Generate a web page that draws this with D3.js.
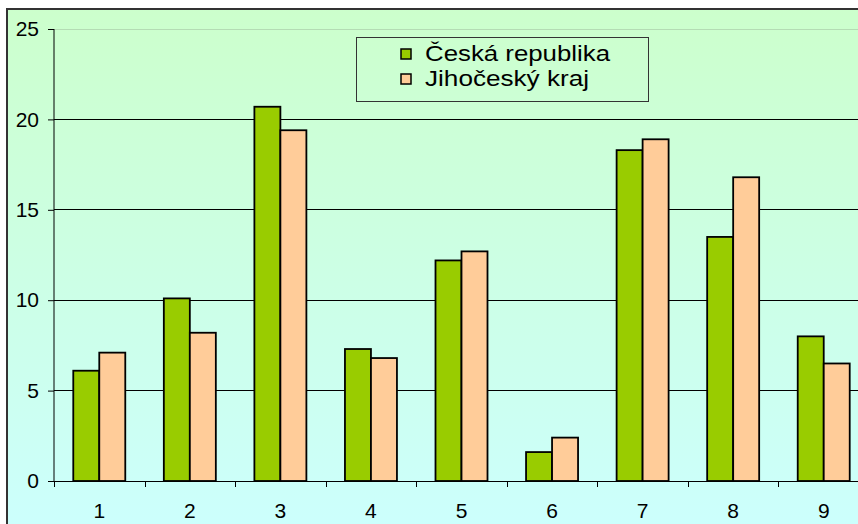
<!DOCTYPE html>
<html>
<head>
<meta charset="utf-8">
<script src="https://cdn.jsdelivr.net/npm/d3@7"></script>
<style>
  html, body { margin: 0; padding: 0; background: #fff; }
  svg { display: block; font-family: "Liberation Sans", Arial, sans-serif; }
</style>
</head>
<body>
<svg id="chart" width="858" height="524"></svg>
<script>
// data
const categories = ["1", "2", "3", "4", "5", "6", "7", "8", "9"]
const seriesNames = ["Česká republika", "Jihočeský kraj"]
const ceskaRepublika = [6.1, 10.1, 20.7, 7.3, 12.2, 1.6, 18.3, 13.5, 8.0]
const jihoceskyKraj = [7.1, 8.2, 19.4, 6.8, 12.7, 2.4, 18.9, 16.8, 6.5]
const yTicks = [0, 5, 10, 15, 20, 25]
const seriesColours = ["#99cc00", "#ffcc99"]

const width = 858, height = 524
const plot = { left: 54, right: 869, top: 29, bottom: 481 }

const svg = d3.select("#chart")
const defs = svg.append("defs")

// background gradient, green at top to cyan at bottom
const grad = defs.append("linearGradient")
    .attr("id", "bg").attr("x1", 0).attr("y1", 0).attr("x2", 0).attr("y2", 1)
grad.append("stop").attr("offset", "0%").attr("stop-color", "#ccffcc")
grad.append("stop").attr("offset", "100%").attr("stop-color", "#ccffff")

svg.append("rect")
    .attr("x", 7).attr("y", 9)
    .attr("width", 880).attr("height", 540)
    .attr("fill", "url(#bg)")
    .attr("stroke", "#333").attr("stroke-width", 2)

//scales
const x = d3.scaleBand().domain(categories).range([plot.left, plot.right]).padding(0)
const groupWidth = 52
const x1 = d3.scaleBand().domain(seriesNames).range([0, groupWidth]).padding(0)
const y = d3.scaleLinear().domain([0, 25]).range([plot.bottom, plot.top])

//gridlines
svg.append("g").selectAll("line")
    .data(yTicks.filter(d => d > 0)).enter().append("line")
    .attr("x1", plot.left).attr("x2", width)
    .attr("y1", d => y(d)).attr("y2", d => y(d))
    .attr("stroke", d => d === 25 ? "#b4dcb4" : "#000")
    .attr("stroke-width", 1)
    .attr("shape-rendering", "crispEdges")

//bars
const data = categories.map((c, i) => ({ cat: c, values: [ceskaRepublika[i], jihoceskyKraj[i]] }))
const groups = svg.append("g").selectAll("g")
    .data(data).enter().append("g")
    .attr("transform", d => `translate(${x(d.cat) + x.bandwidth() / 2 - groupWidth / 2}, 0)`)

groups.selectAll("rect")
    .data(d => d.values.map((v, i) => ({ name: seriesNames[i], value: v, i })))
    .enter().append("rect")
    .attr("x", d => x1(d.name))
    .attr("width", x1.bandwidth())
    .attr("y", d => y(d.value))
    .attr("height", d => y(0) - y(d.value))
    .attr("fill", d => seriesColours[d.i])
    .attr("stroke", "#000")
    .attr("stroke-width", 1.8)

//y axis
const yAxis = svg.append("g")
    .attr("transform", `translate(${plot.left}, 0)`)
    .call(d3.axisLeft(y).tickValues(yTicks).tickSize(6).tickPadding(9))
yAxis.select(".domain").attr("stroke", "#000").attr("d", `M0,${plot.top}V${plot.bottom}`)
yAxis.selectAll("text").attr("font-size", 21).attr("fill", "#000")
    .attr("font-family", "'Liberation Sans', Arial, sans-serif")

//x axis, ticks at category boundaries
svg.append("line")
    .attr("x1", plot.left).attr("x2", width)
    .attr("y1", plot.bottom).attr("y2", plot.bottom)
    .attr("stroke", "#000").attr("shape-rendering", "crispEdges")

svg.append("g").selectAll("line")
    .data(categories).enter().append("line")
    .attr("x1", d => Math.round(x(d)) + 0.5).attr("x2", d => Math.round(x(d)) + 0.5)
    .attr("y1", plot.bottom).attr("y2", plot.bottom + 6)
    .attr("stroke", "#000")

svg.append("g").selectAll("text")
    .data(categories).enter().append("text")
    .attr("x", d => x(d) + x.bandwidth() / 2)
    .attr("y", 518)
    .attr("text-anchor", "middle")
    .attr("font-size", 21)
    .text(d => d)

//legend
const legend = svg.append("g")
legend.append("rect")
    .attr("x", 356.5).attr("y", 37.5)
    .attr("width", 292).attr("height", 64)
    .attr("fill", "none").attr("stroke", "#333").attr("stroke-width", 1)

const textLengths = [185, 164]
const items = legend.selectAll("g.item")
    .data(seriesNames).enter().append("g")
    .attr("class", "item")
    .attr("transform", (d, i) => `translate(0, ${i * 25})`)
items.append("rect")
    .attr("x", 401).attr("y", 49)
    .attr("width", 10).attr("height", 10)
    .attr("fill", (d, i) => seriesColours[i])
    .attr("stroke", "#000").attr("stroke-width", 1.5)
items.append("text")
    .attr("x", 425).attr("y", 61)
    .attr("font-size", 22)
    .attr("textLength", (d, i) => textLengths[i])
    .attr("lengthAdjust", "spacingAndGlyphs")
    .text(d => d)
</script>
</body>
</html>
